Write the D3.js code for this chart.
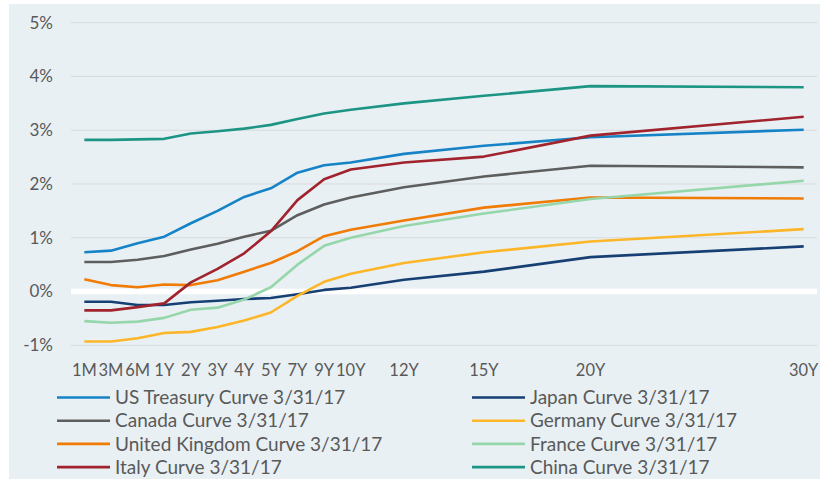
<!DOCTYPE html>
<html>
<head>
<meta charset="utf-8">
<script src="https://cdn.jsdelivr.net/npm/d3@7"></script>
<style>
  body { margin: 0; background: #fff; }
  text { font-family: Lato, "Open Sans", sans-serif; fill: #595959; }
</style>
</head>
<body>
<div id="chart"></div>
<script>
var tenors = ["1M", "3M", "6M", "1Y", "2Y", "3Y", "4Y", "5Y", "7Y", "9Y", "10Y", "12Y", "15Y", "20Y", "30Y"];
// the category axis has 28 slots, most of them blank; this is where each tenor sits
var slots = [0, 1, 2, 3, 4, 5, 6, 7, 8, 9, 10, 12, 15, 19, 27];
var yTicks = [-1, 0, 1, 2, 3, 4, 5];

var seriesNames = [
    "US Treasury Curve 3/31/17", "Japan Curve 3/31/17",
    "Canada Curve 3/31/17", "Germany Curve 3/31/17",
    "United Kingdom Curve 3/31/17", "France Curve 3/31/17",
    "Italy Curve 3/31/17", "China Curve 3/31/17"
];
var seriesColors = ["#1683c6", "#163f73", "#5e5e5e", "#fdb628", "#f07b05", "#96d6ab", "#a0232d", "#1c9585"];

var usTreasury = [0.73, 0.76, 0.90, 1.02, 1.27, 1.50, 1.76, 1.92, 2.21, 2.35, 2.40, 2.56, 2.71, 2.87, 3.01];
var japan      = [-0.19, -0.19, -0.25, -0.25, -0.20, -0.17, -0.14, -0.12, -0.05, 0.03, 0.07, 0.22, 0.37, 0.64, 0.84];
var canada     = [0.55, 0.55, 0.59, 0.66, 0.78, 0.89, 1.02, 1.13, 1.42, 1.62, 1.75, 1.94, 2.14, 2.34, 2.31];
var germany    = [-0.93, -0.93, -0.87, -0.77, -0.75, -0.66, -0.54, -0.39, -0.08, 0.18, 0.33, 0.53, 0.73, 0.93, 1.16];
var uk         = [0.23, 0.12, 0.08, 0.13, 0.12, 0.21, 0.37, 0.53, 0.75, 1.03, 1.15, 1.32, 1.56, 1.75, 1.73];
var france     = [-0.55, -0.58, -0.56, -0.49, -0.34, -0.30, -0.15, 0.08, 0.50, 0.85, 1.00, 1.22, 1.45, 1.72, 2.06];
var italy      = [-0.35, -0.35, -0.29, -0.22, 0.17, 0.42, 0.71, 1.12, 1.70, 2.09, 2.27, 2.40, 2.51, 2.90, 3.25];
var china      = [2.82, 2.82, 2.83, 2.84, 2.94, 2.98, 3.03, 3.10, 3.21, 3.31, 3.38, 3.50, 3.64, 3.82, 3.80];

var allSeries = [usTreasury, japan, canada, germany, uk, france, italy, china];

var width = 820, height = 479;
var margin = { top: 22.7, left: 71, bottom: 133.7, right: 3 };

var svg = d3.select("#chart").append("svg")
    .attr("width", width)
    .attr("height", height);

// panel background
svg.append("rect")
    .attr("x", 9).attr("y", 4)
    .attr("width", width - 9).attr("height", height - 4)
    .attr("fill", "#e8f0f4");

var x = d3.scaleBand()
    .domain(d3.range(28))
    .range([margin.left, width - margin.right]);

var y = d3.scaleLinear()
    .domain([-1, 5])
    .range([height - margin.bottom, margin.top]);

function xPos(i) {
    return x(slots[i]) + x.bandwidth() / 2;
}

// gridlines
svg.append("g").selectAll("line")
    .data(yTicks.filter(function(d){ return d != 0; }))
    .enter().append("line")
    .attr("x1", margin.left).attr("x2", width - margin.right)
    .attr("y1", function(d){ return y(d); })
    .attr("y2", function(d){ return y(d); })
    .attr("stroke", "#d9d9d9")
    .attr("stroke-width", 1);

// zero line is a thick white band
svg.append("line")
    .attr("x1", margin.left).attr("x2", width - margin.right)
    .attr("y1", y(0)).attr("y2", y(0))
    .attr("stroke", "#ffffff")
    .attr("stroke-width", 5.5);

// y labels
svg.append("g").selectAll("text")
    .data(yTicks)
    .enter().append("text")
    .attr("x", 53)
    .attr("y", function(d){ return y(d); })
    .attr("dy", "0.35em")
    .attr("text-anchor", "end")
    .style("font-size", "17px")
    .text(function(d){ return d + "%"; });

// x labels
svg.append("g").selectAll("text")
    .data(tenors)
    .enter().append("text")
    .attr("x", function(d, i){ return xPos(i); })
    .attr("y", 370)
    .attr("dy", "0.35em")
    .attr("text-anchor", "middle")
    .style("font-size", "16.5px")
    .text(function(d){ return d; });

var line = d3.line()
    .x(function(d, i){ return xPos(i); })
    .y(function(d){ return y(d); });

svg.append("g").selectAll("path")
    .data(allSeries)
    .enter().append("path")
    .attr("d", line)
    .attr("fill", "none")
    .attr("stroke", function(d, i){ return seriesColors[i]; })
    .attr("stroke-width", 2.6)
    .attr("stroke-linejoin", "round");

// legend, two columns filled row by row
var legend = svg.append("g").selectAll("g")
    .data(seriesNames)
    .enter().append("g")
    .attr("transform", function(d, i){
        var lx = (i % 2 == 0) ? 57 : 472;
        var ly = 397.5 + Math.floor(i / 2) * 23.2;
        return "translate(" + lx + "," + ly + ")";
    });

legend.append("line")
    .attr("x1", 0).attr("x2", 53)
    .attr("stroke", function(d, i){ return seriesColors[i]; })
    .attr("stroke-width", 2.6);

legend.append("text")
    .attr("x", 58)
    .attr("dy", "0.35em")
    .style("font-size", "19px")
    .text(function(d){ return d; });
</script>
</body>
</html>
